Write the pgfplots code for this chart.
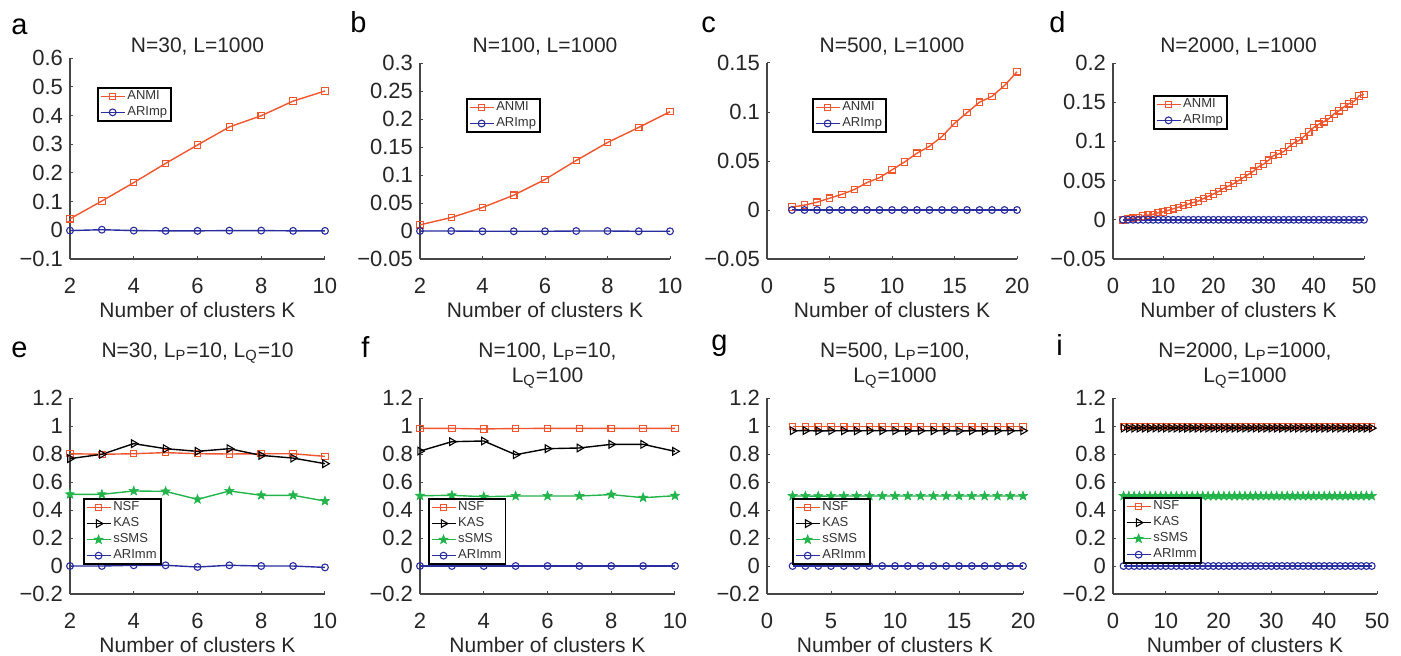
\documentclass[border=0pt]{standalone}
\usepackage{fontspec}
\setmainfont{Liberation Sans}
\usepackage{pgfplots}
\usepackage{pgfplotstable}
\pgfplotsset{compat=1.18}
\usetikzlibrary{plotmarks}

\definecolor{cOr}{RGB}{240,85,45}
\definecolor{cBl}{RGB}{40,45,160}
\definecolor{cGr}{RGB}{35,180,75}
\definecolor{cAx}{RGB}{70,70,70}

\pgfdeclareplotmark{fstar}{%
  \pgfpathmoveto{\pgfpointpolar{90}{\pgfplotmarksize}}%
  \pgfpathlineto{\pgfpointpolar{126}{0.42\pgfplotmarksize}}%
  \pgfpathlineto{\pgfpointpolar{162}{\pgfplotmarksize}}%
  \pgfpathlineto{\pgfpointpolar{198}{0.42\pgfplotmarksize}}%
  \pgfpathlineto{\pgfpointpolar{234}{\pgfplotmarksize}}%
  \pgfpathlineto{\pgfpointpolar{270}{0.42\pgfplotmarksize}}%
  \pgfpathlineto{\pgfpointpolar{306}{\pgfplotmarksize}}%
  \pgfpathlineto{\pgfpointpolar{342}{0.42\pgfplotmarksize}}%
  \pgfpathlineto{\pgfpointpolar{18}{\pgfplotmarksize}}%
  \pgfpathlineto{\pgfpointpolar{54}{0.42\pgfplotmarksize}}%
  \pgfpathclose
  \pgfusepathqfillstroke
}

\pgfplotsset{
  myax/.style={
    scale only axis, clip=false,
    /pgf/number format/assume math mode=true,
    axis x line*=bottom, axis y line*=left,
    axis line style={-, cAx, line width=0.6pt},
    tick align=inside, major tick length=1.6pt,
    tick style={cAx, line width=0.5pt},
    tick label style={font=\fontsize{11}{12}\selectfont, text=black!85},
    xticklabel style={anchor=base, yshift=-17pt},
    xlabel={Number of clusters K},
    xlabel style={at={(axis description cs:0.5,0)}, anchor=base, yshift=-29pt, font=\fontsize{10.5}{12}\selectfont, text=black!85},
    legend cell align=left,
    legend style={draw=black, line width=0.9pt, fill=white, font=\fontsize{6.5}{7}\selectfont,
      inner xsep=1pt, inner ysep=0.3pt, nodes={inner sep=1pt}, text=black!80},
    legend image code/.code={\draw[mark repeat=2,mark phase=2] plot coordinates {(0pt,0pt) (6pt,0pt) (12pt,0pt)};},
  },
  pOr/.style={color=cOr, line width=0.7pt, mark=square, mark size=1.6pt, mark options={line width=0.55pt, solid}},
  pBl/.style={color=cBl, line width=0.7pt, mark=o, mark size=1.7pt, mark options={line width=0.55pt, solid}},
  pBk/.style={color=black, line width=0.7pt, mark=triangle, mark size=2.2pt, mark options={line width=0.55pt, solid, rotate=-90}},
  pGr/.style={color=cGr, line width=0.7pt, mark=fstar, mark size=2.4pt, mark options={line width=0.3pt, solid}},
  yb/.style={ymin=-0.2, ymax=1.2, ytick={-0.2,0,0.2,0.4,0.6,0.8,1,1.2},
    yticklabels={−0.2,0,0.2,0.4,0.6,0.8,1,1.2}},
}

\pgfplotstableread{
K ANMI ARImp
2 0.003 0
3 0.005 0
4 0.008 0
5 0.012 0
6 0.016 0
7 0.021 0
8 0.028 0
9 0.033 0
10 0.041 0
11 0.049 0
12 0.058 0
13 0.065 0
14 0.075 0
15 0.0885 0
16 0.0993 0
17 0.110 0
18 0.116 0
19 0.127 0
20 0.141 0
}\tabC

\pgfplotstableread{
K ANMI ARImp
2 0.000 0
3 0.001 0
4 0.002 0
5 0.003 0
6 0.005 0
7 0.006 0
8 0.007 0
9 0.009 0
10 0.010 0
11 0.012 0
12 0.014 0
13 0.016 0
14 0.018 0
15 0.020 0
16 0.022 0
17 0.024 0
18 0.027 0
19 0.030 0
20 0.033 0
21 0.036 0
22 0.040 0
23 0.043 0
24 0.046 0
25 0.050 0
26 0.054 0
27 0.058 0
28 0.062 0
29 0.068 0
30 0.071 0
31 0.076 0
32 0.082 0
33 0.084 0
34 0.087 0
35 0.093 0
36 0.098 0
37 0.101 0
38 0.106 0
39 0.112 0
40 0.118 0
41 0.122 0
42 0.125 0
43 0.129 0
44 0.135 0
45 0.139 0
46 0.144 0
47 0.148 0
48 0.151 0
49 0.158 0
50 0.160 0
}\tabD

\pgfplotstableread{
K NSF KAS sSMS ARImm
2 0.998 0.966 0.500 0
3 0.998 0.967 0.500 0
4 0.998 0.965 0.499 0
5 0.998 0.966 0.500 0
6 0.998 0.966 0.500 0
7 0.998 0.965 0.500 0
8 0.998 0.967 0.500 0
9 0.998 0.966 0.500 0
10 0.998 0.966 0.500 0
11 0.998 0.965 0.500 0
12 0.998 0.966 0.500 0
13 0.998 0.966 0.500 0
14 0.998 0.967 0.500 0
15 0.998 0.964 0.500 0
16 0.998 0.966 0.500 0
17 0.998 0.965 0.500 0
18 0.998 0.966 0.500 0
19 0.998 0.966 0.500 0
20 0.998 0.966 0.500 0
}\tabG

\pgfplotstableread{
K NSF KAS sSMS ARImm
2 0.996 0.985 0.500 0
3 0.996 0.985 0.500 0
4 0.996 0.985 0.500 0
5 0.996 0.985 0.500 0
6 0.996 0.985 0.500 0
7 0.996 0.985 0.500 0
8 0.996 0.985 0.500 0
9 0.996 0.985 0.500 0
10 0.996 0.985 0.500 0
11 0.996 0.985 0.500 0
12 0.996 0.985 0.500 0
13 0.996 0.985 0.500 0
14 0.996 0.985 0.500 0
15 0.996 0.985 0.500 0
16 0.996 0.985 0.500 0
17 0.996 0.985 0.500 0
18 0.996 0.985 0.500 0
19 0.996 0.985 0.500 0
20 0.996 0.985 0.500 0
21 0.996 0.985 0.500 0
22 0.996 0.985 0.500 0
23 0.996 0.985 0.500 0
24 0.996 0.985 0.500 0
25 0.996 0.985 0.500 0
26 0.996 0.985 0.500 0
27 0.996 0.985 0.500 0
28 0.996 0.985 0.500 0
29 0.996 0.985 0.500 0
30 0.996 0.985 0.500 0
31 0.996 0.985 0.500 0
32 0.996 0.985 0.500 0
33 0.996 0.985 0.500 0
34 0.996 0.985 0.500 0
35 0.996 0.985 0.500 0
36 0.996 0.985 0.500 0
37 0.996 0.985 0.500 0
38 0.996 0.985 0.500 0
39 0.996 0.985 0.500 0
40 0.996 0.985 0.500 0
41 0.996 0.985 0.500 0
42 0.996 0.985 0.500 0
43 0.996 0.985 0.500 0
44 0.996 0.985 0.500 0
45 0.996 0.985 0.500 0
46 0.996 0.985 0.500 0
47 0.996 0.985 0.500 0
48 0.996 0.985 0.500 0
49 0.996 0.985 0.500 0
}\tabI

\begin{document}
\begin{tikzpicture}[x=1pt,y=1pt]
\path[use as bounding box] (0,0) rectangle (700.5,327.5);

% ---------- a ----------
\begin{axis}[myax, at={(35pt,198pt)}, anchor=south west, width=127.5pt, height=100.5pt,
  xmin=2, xmax=10, xtick={2,4,6,8,10},
  ymin=-0.1, ymax=0.6, ytick={-0.1,0,0.1,0.2,0.3,0.4,0.5,0.6},
  yticklabels={−0.1,0,0.1,0.2,0.3,0.4,0.5,0.6},
  legend style={at={(0.106,0.856)}, anchor=north west}]
\addplot[pOr] coordinates {(2,0.040)(3,0.102)(4,0.166)(5,0.233)(6,0.297)(7,0.360)(8,0.399)(9,0.450)(10,0.485)};
\addplot[pBl] coordinates {(2,-0.001)(3,0.002)(4,-0.001)(5,-0.002)(6,-0.002)(7,-0.001)(8,-0.001)(9,-0.002)(10,-0.002)};
\legend{ANMI,ARImp}
\end{axis}

% ---------- b ----------
\begin{axis}[myax, at={(210pt,198pt)}, anchor=south west, width=125pt, height=98pt,
  xmin=2, xmax=10, xtick={2,4,6,8,10},
  ymin=-0.05, ymax=0.3, ytick={-0.05,0,0.05,0.1,0.15,0.2,0.25,0.3},
  yticklabels={−0.05,0,0.05,0.1,0.15,0.2,0.25,0.3},
  legend style={at={(0.184,0.821)}, anchor=north west}]
\addplot[pOr] coordinates {(2,0.011)(3,0.024)(4,0.042)(5,0.064)(6,0.092)(7,0.126)(8,0.158)(9,0.185)(10,0.213)};
\addplot[pBl] coordinates {(2,0)(3,0)(4,-0.0005)(5,-0.0005)(6,-0.0005)(7,0)(8,0)(9,-0.0005)(10,-0.0005)};
\legend{ANMI,ARImp}
\end{axis}

% ---------- c ----------
\begin{axis}[myax, at={(383.5pt,198pt)}, anchor=south west, width=125pt, height=98pt,
  xmin=0, xmax=20, xtick={0,5,10,15,20},
  ymin=-0.05, ymax=0.15, ytick={-0.05,0,0.05,0.1,0.15},
  yticklabels={−0.05,0,0.05,0.1,0.15},
  legend style={at={(0.18,0.821)}, anchor=north west}]
\addplot[pOr] table[x=K,y=ANMI] {\tabC};
\addplot[pBl] table[x=K,y=ARImp] {\tabC};
\legend{ANMI,ARImp}
\end{axis}

% ---------- d ----------
\begin{axis}[myax, at={(556.5pt,198pt)}, anchor=south west, width=125.5pt, height=98pt,
  xmin=0, xmax=50, xtick={0,10,20,30,40,50},
  ymin=-0.05, ymax=0.2, ytick={-0.05,0,0.05,0.1,0.15,0.2},
  yticklabels={−0.05,0,0.05,0.1,0.15,0.2},
  legend style={at={(0.159,0.837)}, anchor=north west}]
\addplot[pOr] table[x=K,y=ANMI] {\tabD};
\addplot[pBl] table[x=K,y=ARImp] {\tabD};
\legend{ANMI,ARImp}
\end{axis}

% ---------- e ----------
\begin{axis}[myax, yb, at={(35pt,30.5pt)}, anchor=south west, width=127.5pt, height=98pt,
  xmin=2, xmax=10, xtick={2,4,6,8,10},
  legend style={at={(0.051,0.49)}, anchor=north west}]
\addplot[pOr] coordinates {(2,0.802)(3,0.798)(4,0.802)(5,0.810)(6,0.802)(7,0.800)(8,0.802)(9,0.802)(10,0.783)};
\addplot[pBk] coordinates {(2,0.767)(3,0.798)(4,0.874)(5,0.838)(6,0.819)(7,0.838)(8,0.790)(9,0.771)(10,0.731)};
\addplot[pGr] coordinates {(2,0.512)(3,0.512)(4,0.536)(5,0.533)(6,0.476)(7,0.536)(8,0.505)(9,0.505)(10,0.464)};
\addplot[pBl] coordinates {(2,0)(3,0)(4,0.005)(5,0.005)(6,-0.007)(7,0.005)(8,0)(9,0)(10,-0.01)};
\legend{NSF,KAS,sSMS,ARImm}
\end{axis}

% ---------- f ----------
\begin{axis}[myax, yb, at={(210pt,30.5pt)}, anchor=south west, width=127.5pt, height=98pt,
  xmin=2, xmax=10, xtick={2,4,6,8,10},
  legend style={at={(0.031,0.49)}, anchor=north west}]
\addplot[pOr] coordinates {(2,0.983)(3,0.983)(4,0.979)(5,0.982)(6,0.983)(7,0.983)(8,0.983)(9,0.983)(10,0.983)};
\addplot[pBk] coordinates {(2,0.821)(3,0.888)(4,0.893)(5,0.795)(6,0.838)(7,0.843)(8,0.869)(9,0.869)(10,0.819)};
\addplot[pGr] coordinates {(2,0.502)(3,0.505)(4,0.495)(5,0.500)(6,0.500)(7,0.500)(8,0.510)(9,0.488)(10,0.502)};
\addplot[pBl] coordinates {(2,0)(3,0)(4,0)(5,0)(6,0)(7,0)(8,0)(9,0)(10,0)};
\legend{NSF,KAS,sSMS,ARImm}
\end{axis}

% ---------- g ----------
\begin{axis}[myax, yb, at={(383.5pt,30.5pt)}, anchor=south west, width=128pt, height=98pt,
  xmin=0, xmax=20, xtick={0,5,10,15,20},
  legend style={at={(0.098,0.49)}, anchor=north west}]
\addplot[pOr] table[x=K,y=NSF] {\tabG};
\addplot[pBk] table[x=K,y=KAS] {\tabG};
\addplot[pGr] table[x=K,y=sSMS] {\tabG};
\addplot[pBl] table[x=K,y=ARImm] {\tabG};
\legend{NSF,KAS,sSMS,ARImm}
\end{axis}

% ---------- i ----------
\begin{axis}[myax, yb, at={(556.5pt,30.5pt)}, anchor=south west, width=132pt, height=98pt,
  xmin=0, xmax=50, xtick={0,10,20,30,40,50},
  legend style={at={(0.038,0.495)}, anchor=north west}]
\addplot[pOr] table[x=K,y=NSF] {\tabI};
\addplot[pBk] table[x=K,y=KAS] {\tabI};
\addplot[pGr] table[x=K,y=sSMS] {\tabI};
\addplot[pBl] table[x=K,y=ARImm] {\tabI};
\legend{NSF,KAS,sSMS,ARImm}
\end{axis}

% ---------- titles ----------
\begin{scope}[every node/.style={font=\fontsize{10.5}{12}\selectfont, text=black!85, anchor=base, inner sep=0pt}]
\node at (98.75,301.5) {N=30, L=1000};
\node at (272.5,301.5) {N=100, L=1000};
\node at (446,301.5) {N=500, L=1000};
\node at (619.25,301.5) {N=2000, L=1000};
\node at (98.75,149) {N=30, L\textsubscript{P}=10, L\textsubscript{Q}=10};
\node at (273.75,149) {N=100, L\textsubscript{P}=10,};
\node at (273.75,136.5) {L\textsubscript{Q}=100};
\node at (447.5,149) {N=500, L\textsubscript{P}=100,};
\node at (447.5,136.5) {L\textsubscript{Q}=1000};
\node at (622.5,149) {N=2000, L\textsubscript{P}=1000,};
\node at (622.5,136.5) {L\textsubscript{Q}=1000};
\end{scope}

% ---------- panel letters ----------
\begin{scope}[every node/.style={font=\fontsize{14.5}{16}\selectfont, text=black, anchor=base west, inner sep=0pt}]
\node at (5.5,310) {a};
\node at (175,311) {b};
\node at (350.5,311) {c};
\node at (524.5,311) {d};
\node at (5.5,149) {e};
\node at (180.5,149) {f};
\node at (355.5,152.5) {g};
\node at (528,150) {i};
\end{scope}
\end{tikzpicture}
\end{document}
